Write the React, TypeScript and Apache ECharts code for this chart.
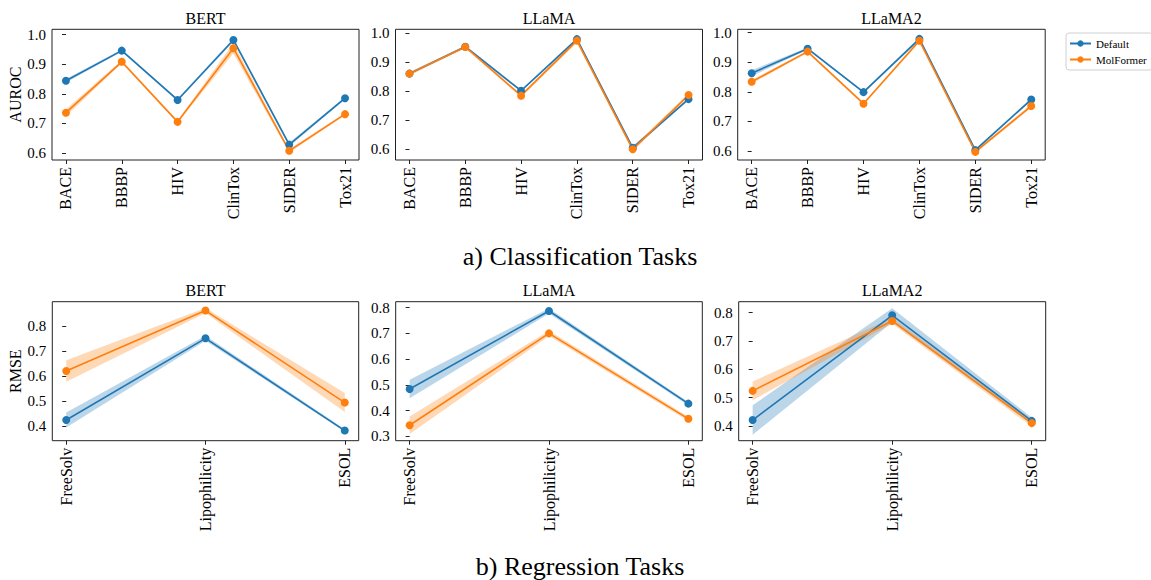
import React, { useEffect, useRef } from "react";
import * as echarts from "echarts";

const FONT = "'Liberation Serif', 'DejaVu Serif', serif";
const C_DEF = "#1f77b4";
const C_MOL = "#ff7f0e";
const B_DEF = "rgba(31,119,180,0.3)";
const B_MOL = "rgba(255,127,14,0.3)";

const classCats = ["BACE", "BBBP", "HIV", "ClinTox", "SIDER", "Tox21"];
const regCats = ["FreeSolv", "Lipophilicity", "ESOL"];
const models = ["BERT", "LLaMA", "LLaMA2"];

// Classification (AUROC)
const bertClsDefault = [0.844, 0.946, 0.779, 0.982, 0.628, 0.785];
const bertClsDefaultStd = [0.006, 0.004, 0.004, 0.006, 0.006, 0.004];
const bertClsMol = [0.736, 0.908, 0.705, 0.954, 0.607, 0.731];
const bertClsMolStd = [0.012, 0.005, 0.004, 0.018, 0.006, 0.004];

const llamaClsDefault = [0.861, 0.954, 0.802, 0.98, 0.605, 0.773];
const llamaClsDefaultStd = [0.005, 0.004, 0.004, 0.004, 0.006, 0.004];
const llamaClsMol = [0.861, 0.953, 0.785, 0.975, 0.6, 0.787];
const llamaClsMolStd = [0.006, 0.004, 0.005, 0.008, 0.008, 0.006];

const llama2ClsDefault = [0.863, 0.946, 0.799, 0.979, 0.603, 0.774];
const llama2ClsDefaultStd = [0.01, 0.004, 0.004, 0.005, 0.005, 0.004];
const llama2ClsMol = [0.834, 0.936, 0.76, 0.973, 0.597, 0.752];
const llama2ClsMolStd = [0.006, 0.004, 0.004, 0.005, 0.005, 0.006];

// Regression (RMSE)
const bertRegDefault = [0.424, 0.751, 0.382];
const bertRegDefaultStd = [0.03, 0.01, 0.005];
const bertRegMol = [0.62, 0.862, 0.494];
const bertRegMolStd = [0.043, 0.01, 0.038];

const llamaRegDefault = [0.484, 0.787, 0.427];
const llamaRegDefaultStd = [0.036, 0.01, 0.006];
const llamaRegMol = [0.343, 0.7, 0.368];
const llamaRegMolStd = [0.034, 0.01, 0.008];

const llama2RegDefault = [0.421, 0.791, 0.418];
const llama2RegDefaultStd = [0.052, 0.025, 0.012];
const llama2RegMol = [0.524, 0.771, 0.41];
const llama2RegMolStd = [0.033, 0.01, 0.012];

const clsTicks = [0.6, 0.7, 0.8, 0.9, 1.0];
const regTicksA = [0.4, 0.5, 0.6, 0.7, 0.8];
const regTicksB = [0.3, 0.4, 0.5, 0.6, 0.7, 0.8];

type Panel = {
  title: string;
  cats: string[];
  def: number[];
  defStd: number[];
  mol: number[];
  molStd: number[];
  yMin: number;
  yMax: number;
  ticks: number[];
  left: number;
  top: number;
  width: number;
  height: number;
  yName?: string;
};

const panels: Panel[] = [
  { title: models[0], cats: classCats, def: bertClsDefault, defStd: bertClsDefaultStd, mol: bertClsMol, molStd: bertClsMolStd, yMin: 0.576, yMax: 1.018, ticks: clsTicks, left: 52, top: 29.3, width: 307, height: 130.7, yName: "AUROC" },
  { title: models[1], cats: classCats, def: llamaClsDefault, defStd: llamaClsDefaultStd, mol: llamaClsMol, molStd: llamaClsMolStd, yMin: 0.563, yMax: 1.014, ticks: clsTicks, left: 395.5, top: 29.3, width: 307, height: 130.7 },
  { title: models[2], cats: classCats, def: llama2ClsDefault, defStd: llama2ClsDefaultStd, mol: llama2ClsMol, molStd: llama2ClsMolStd, yMin: 0.5696, yMax: 1.0115, ticks: clsTicks, left: 737.7, top: 29.3, width: 307.5, height: 130.7 },
  { title: models[0], cats: regCats, def: bertRegDefault, defStd: bertRegDefaultStd, mol: bertRegMol, molStd: bertRegMolStd, yMin: 0.3414, yMax: 0.8975, ticks: regTicksA, left: 52.3, top: 301.7, width: 306.4, height: 139, yName: "RMSE" },
  { title: models[1], cats: regCats, def: llamaRegDefault, defStd: llamaRegDefaultStd, mol: llamaRegMol, molStd: llamaRegMolStd, yMin: 0.283, yMax: 0.823, ticks: regTicksB, left: 395.7, top: 301.7, width: 306.6, height: 139 },
  { title: models[2], cats: regCats, def: llama2RegDefault, defStd: llama2RegDefaultStd, mol: llama2RegMol, molStd: llama2RegMolStd, yMin: 0.348, yMax: 0.839, ticks: regTicksA, left: 738.7, top: 301.7, width: 307, height: 139 },
];

function bandSeries(gi: number, mean: number[], std: number[], fill: string, name: string) {
  return {
    type: "custom",
    name,
    xAxisIndex: gi,
    yAxisIndex: gi,
    z: 1,
    silent: true,
    data: [[0, mean[0]]],
    encode: { x: 0, y: 1 },
    renderItem: (_p: any, api: any) => {
      const upper = mean.map((m, i) => api.coord([i, m + std[i]]));
      const lower = mean.map((m, i) => api.coord([i, m - std[i]])).reverse();
      return {
        type: "polygon",
        shape: { points: upper.concat(lower) },
        style: { fill, stroke: null },
      };
    },
  };
}

function lineSeries(gi: number, mean: number[], color: string, name: string) {
  return {
    type: "line",
    name,
    xAxisIndex: gi,
    yAxisIndex: gi,
    z: 3,
    data: mean.map((v, i) => [i, v]),
    symbol: "circle",
    symbolSize: 8,
    showSymbol: true,
    lineStyle: { color, width: 1.6 },
    itemStyle: { color },
  };
}

export default function App() {
  const ref = useRef<HTMLDivElement>(null);
  useEffect(() => {
    document.body.style.margin = "0";
    const chart = echarts.init(ref.current!, undefined, { renderer: "svg" });
    const grids: any[] = [];
    const xAxes: any[] = [];
    const yAxes: any[] = [];
    const series: any[] = [];
    const graphics: any[] = [];
    panels.forEach((p, gi) => {
      const n = p.cats.length;
      const pad = (n - 1) * 0.05;
      const idx = p.cats.map((_c, i) => i);
      grids.push({
        left: p.left,
        top: p.top,
        width: p.width,
        height: p.height,
        show: true,
        borderColor: "#222",
        borderWidth: 1,
        backgroundColor: "transparent",
        containLabel: false,
      });
      xAxes.push({
        type: "value",
        gridIndex: gi,
        min: -pad,
        max: n - 1 + pad,
        axisLine: { show: false },
        splitLine: { show: false },
        axisTick: { show: true, customValues: idx, length: 4, lineStyle: { color: "#222" } },
        axisLabel: {
          customValues: idx,
          formatter: (v: number) => p.cats[Math.round(v)],
          rotate: 90,
          fontSize: 16,
          fontWeight: "normal",
          fontFamily: FONT,
          color: "#000",
          margin: 7,
        },
      });
      yAxes.push({
        type: "value",
        gridIndex: gi,
        min: p.yMin,
        max: p.yMax,
        axisLine: { show: false },
        splitLine: { show: false },
        axisTick: { show: true, customValues: p.ticks, length: 4, lineStyle: { color: "#222" } },
        axisLabel: {
          customValues: p.ticks,
          formatter: (v: number) => v.toFixed(1),
          fontSize: 15,
          fontWeight: "normal",
          fontFamily: FONT,
          color: "#000",
          margin: 6,
        },
        name: p.yName || "",
        nameLocation: "middle",
        nameGap: 28,
        nameTextStyle: { fontSize: 16, fontWeight: "normal", fontFamily: FONT, color: "#000" },
      });
      series.push(bandSeries(gi, p.def, p.defStd, B_DEF, "DefaultBand"));
      series.push(bandSeries(gi, p.mol, p.molStd, B_MOL, "MolFormerBand"));
      series.push(lineSeries(gi, p.def, C_DEF, "Default"));
      series.push(lineSeries(gi, p.mol, C_MOL, "MolFormer"));
      graphics.push({
        type: "text",
        x: p.left + p.width / 2,
        y: p.top - 11,
        style: {
          text: p.title,
          fontSize: 16,
          fontWeight: "normal",
          fontFamily: FONT,
          fill: "#000",
          textAlign: "center",
          textVerticalAlign: "middle",
        },
      });
    });
    graphics.push({
      type: "text",
      x: 580,
      y: 256,
      style: { text: "a) Classification Tasks", fontSize: 26, fontWeight: "normal", fontFamily: FONT, fill: "#000", textAlign: "center", textVerticalAlign: "middle" },
    });
    graphics.push({
      type: "text",
      x: 580,
      y: 566,
      style: { text: "b) Regression Tasks", fontSize: 26, fontWeight: "normal", fontFamily: FONT, fill: "#000", textAlign: "center", textVerticalAlign: "middle" },
    });
    chart.setOption({
      animation: false,
      backgroundColor: "#fff",
      grid: grids,
      xAxis: xAxes,
      yAxis: yAxes,
      series,
      graphic: graphics,
      legend: {
        data: ["Default", "MolFormer"],
        orient: "vertical",
        left: 1066,
        top: 33,
        itemWidth: 21,
        itemHeight: 8,
        itemGap: 5,
        padding: [5, 6, 5, 3],
        borderColor: "#d0d0d0",
        borderWidth: 1,
        borderRadius: 3,
        textStyle: { fontSize: 11, fontWeight: "normal", fontFamily: FONT, color: "#000" },
      },
    });
    return () => chart.dispose();
  }, []);
  return <div ref={ref} style={{ width: 1151, height: 580 }} />;
}
